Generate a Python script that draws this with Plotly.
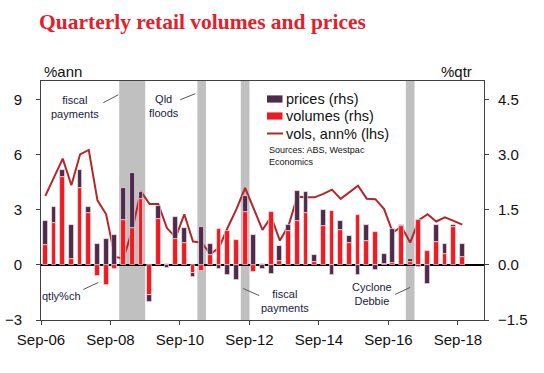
import plotly.graph_objects as go

# ---------------- data ----------------
quarters = [f"{m}-{y:02d}" for y in range(6, 19) for m in ("Mar", "Jun", "Sep", "Dec")][2:51]  # Sep-06 .. Sep-18

volumes_qtr = [0.53, 1.13, 2.40, 0.17, 2.10, 1.40, -0.29, -0.55, -0.12, 1.23,
               1.00, 1.79, -0.83, 1.25, 0.02, 0.70, 0.59, -0.23, -0.16, 0.27,
               0.97, 0.92, 0.68, 1.43, -0.20, 0.02, 1.43, 0.10, 0.91, 1.20,
               1.40, 0.09, 1.05, 1.46, 0.94, 0.59, 1.36, 0.65, 0.90, 0.02,
               0.06, 1.05, 0.08, 1.22, 0.38, 0.62, 0.30, 1.04, 0.20]

prices_qtr = [0.65, 0.45, 0.18, 0.92, 0.48, 0.17, 0.56, 0.69, 0.80, 0.86,
              1.49, 0.18, -0.18, 0.35, -0.08, 0.59, 0.40, -0.09, 1.04, 0.31,
              -0.10, -0.28, -0.42, 0.45, 0.80, -0.11, -0.25, 0.40, 0.18, 0.80,
              0.59, 0.19, 0.44, -0.27, 0.26, 0.20, -0.27, 0.43, -0.14, 0.27,
              0.91, 0.03, 0.09, -0.05, -0.51, 0.46, 0.28, 0.05, 0.38]

vols_ann = [3.75, 4.76, 5.78, 4.33, 6.01, 6.25, 3.51, 2.75, 0.43, 0.35,
            1.90, 4.00, 3.31, 3.31, 2.00, 1.49, 2.75, 1.27, 1.21, 0.58,
            0.94, 2.03, 3.03, 4.18, 3.04, 1.90, 2.62, 1.32, 2.14, 3.71,
            3.67, 3.67, 3.86, 4.09, 3.59, 3.95, 4.31, 3.60, 3.57, 3.03,
            1.76, 2.08, 1.21, 2.43, 2.75, 2.36, 2.59, 2.39, 2.19]

tick_labels = ["Sep-06", "Sep-08", "Sep-10", "Sep-12", "Sep-14", "Sep-16", "Sep-18"]

# shaded events: (first quarter, last quarter)
events = [("Dec-08", "Jun-09"), ("Mar-11", "Mar-11"), ("Jun-12", "Jun-12"), ("Mar-17", "Mar-17")]

lhs_ticks = [-3, 0, 3, 6, 9]
rhs_ticks = [-1.5, 0.0, 1.5, 3.0, 4.5]

# ---------------- figure ----------------
xpos = list(range(len(quarters)))
PURPLE = "#4e2a4c"
RED = "#ec1c24"
LINE = "#b3262a"
FONT = "Liberation Sans"
TXT = "#111111"

# plot-area pixel geometry helpers (for layout-only items)
PL, PR, PT, PB = 41.0, 484.0, 81.0, 320.0
def px(xp):
    return (xp - PL) / (PR - PL)
def py(yp):
    return (PB - yp) / (PB - PT)

fig = go.Figure()
fig.add_trace(go.Bar(x=xpos, y=volumes_qtr, name="volumes (rhs)", marker_color=RED,
                     marker_line=dict(color="rgba(255,235,235,0.8)", width=0.8),
                     width=0.55, yaxis="y2", hovertext=quarters))
fig.add_trace(go.Bar(x=xpos, y=prices_qtr, name="prices (rhs)", marker_color=PURPLE,
                     marker_line=dict(color="rgba(255,235,235,0.8)", width=0.8),
                     width=0.55, yaxis="y2", hovertext=quarters))
fig.add_trace(go.Scatter(x=xpos, y=vols_ann, name="vols, ann% (lhs)", mode="lines",
                         line=dict(color=LINE, width=2), yaxis="y", hovertext=quarters))

qi = {q: i for i, q in enumerate(quarters)}
shapes = []
for a, b in events:
    shapes.append(dict(type="rect", xref="x", yref="paper", x0=qi[a] - 0.5, x1=qi[b] + 0.5,
                       y0=0, y1=1, fillcolor="#c0c0c0", line_width=0, layer="below"))

# annotation labels with leader lines (x in quarter units, y in lhs units)
labels = [
    ("fiscal<br>payments", 3.45, 8.58, (6.67, 8.82, 8.40, 9.25)),
    ("Qld<br>floods", 13.69, 8.66, (15.53, 8.98, 17.26, 9.31)),
    ("qtly%ch", 1.89, -1.70, (4.37, -1.34, 6.09, -0.96)),
    ("fiscal<br>payments", 27.56, -1.99, (22.78, -1.29, 24.62, -1.67)),
    ("Cyclone<br>Debbie", 37.62, -1.56, (40.27, -1.61, 41.99, -1.23)),
]
annotations = []
for text, x, y, (x0, y0, x1, y1) in labels:
    annotations.append(dict(text=text, x=x, y=y, xref="x", yref="y", showarrow=False,
                            font=dict(family=FONT, size=11, color="#1a1a40"),
                            xanchor="center", yanchor="middle"))
    shapes.append(dict(type="line", xref="x", yref="y", x0=x0, y0=y0, x1=x1, y1=y1,
                       line=dict(color="#555555", width=1)))

# legend drawn as layout items (tight row spacing like the reference)
legend_items = [("prices (rhs)", "bar", PURPLE, 99.0),
                ("volumes (rhs)", "bar", RED, 116.0),
                ("vols, ann% (lhs)", "line", LINE, 133.5)]
for text, kind, col, yc in legend_items:
    if kind == "bar":
        shapes.append(dict(type="rect", xref="paper", yref="paper", x0=px(267), x1=px(282.5),
                           y0=py(yc + 3.6), y1=py(yc - 3.6), fillcolor=col, line_width=0))
    else:
        shapes.append(dict(type="line", xref="paper", yref="paper", x0=px(267), x1=px(283),
                           y0=py(yc), y1=py(yc), line=dict(color=col, width=2)))
    annotations.append(dict(text=text, xref="paper", yref="paper", x=px(283.5), y=py(yc),
                            xanchor="left", yanchor="middle", showarrow=False,
                            font=dict(family=FONT, size=14.5, color=TXT)))

annotations += [
    dict(text="<b>Quarterly retail volumes and prices</b>", xref="paper", yref="paper",
         x=px(37), y=py(8), xanchor="left", yanchor="top", showarrow=False,
         font=dict(family="Liberation Serif", size=21.5, color="#e3202a")),
    dict(text="%ann", xref="paper", yref="paper", x=px(42), y=py(72), xanchor="left",
         yanchor="middle", showarrow=False, font=dict(family=FONT, size=15, color=TXT)),
    dict(text="%qtr", xref="paper", yref="paper", x=px(439), y=py(72), xanchor="left",
         yanchor="middle", showarrow=False, font=dict(family=FONT, size=15, color=TXT)),
    dict(text="Sources: ABS, Westpac<br>Economics", xref="paper", yref="paper",
         x=px(266.5), y=py(156), xanchor="left", yanchor="middle", align="left", showarrow=False,
         font=dict(family=FONT, size=9, color=TXT)),
]

axis_common = dict(showline=True, linecolor="#404040", linewidth=1, ticks="outside",
                   tickcolor="#404040", ticklen=4, showgrid=False, automargin=False,
                   tickfont=dict(family=FONT, size=15, color=TXT))

fig.update_layout(
    width=544, height=373,
    margin=dict(l=PL, r=544 - PR, t=PT, b=373 - PB, pad=0, autoexpand=False),
    paper_bgcolor="white", plot_bgcolor="white",
    barmode="relative", bargap=0,
    showlegend=False,
    xaxis=dict(range=[-0.5, 50.5], tickvals=[qi[t] - 0.5 for t in tick_labels],
               ticktext=tick_labels, mirror=True, zeroline=False, ticklabelstandoff=2,
               **axis_common),
    yaxis=dict(range=[-3, 10], tickvals=lhs_ticks, zeroline=True, zerolinecolor="#000000",
               zerolinewidth=1.5, ticklabelstandoff=11, **axis_common),
    yaxis2=dict(range=[-1.5, 5], tickvals=rhs_ticks, tickformat=".1f", overlaying="y",
                side="right", zeroline=False, ticklabelstandoff=6, **axis_common),
    shapes=shapes,
    annotations=annotations,
)

fig.write_html("out.html", config={"displayModeBar": False},
               post_script="document.body.style.margin='0';")
